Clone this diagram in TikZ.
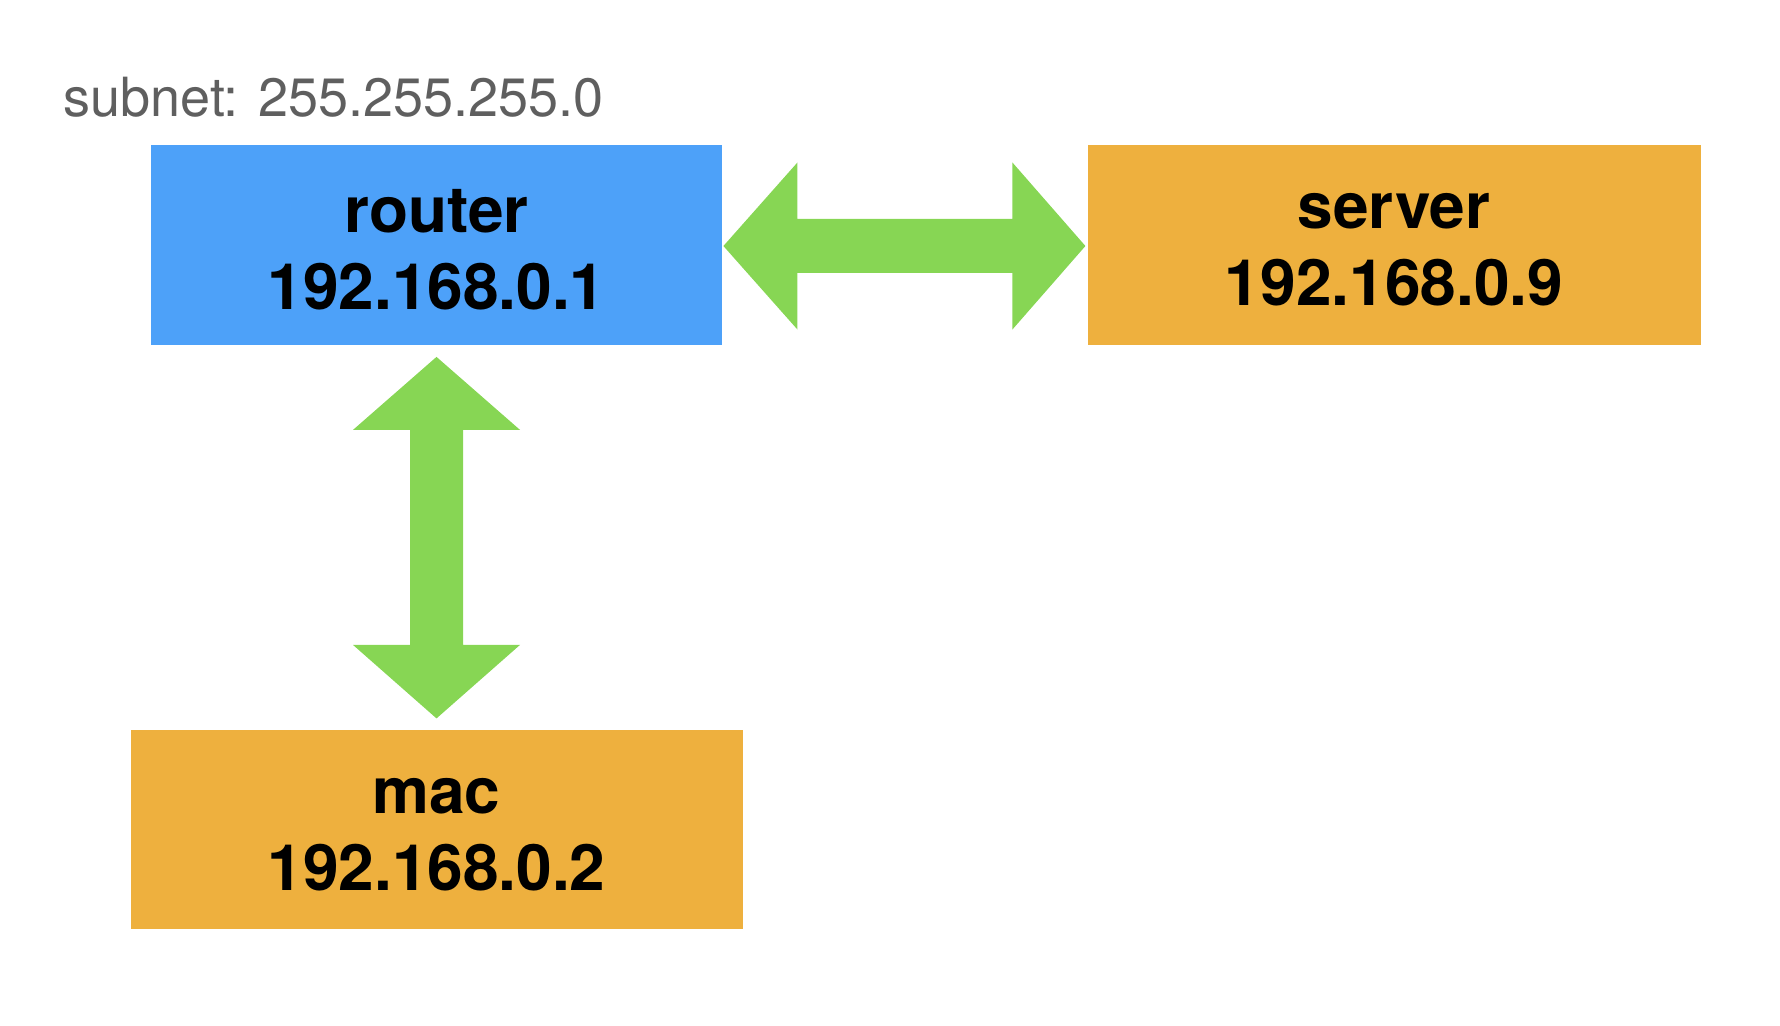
\documentclass[tikz,border=0pt]{standalone}
\usepackage{fontspec}
\setmainfont{TeX Gyre Heros}
\usetikzlibrary{calc}
\definecolor{routerblue}{RGB}{77,161,249}
\definecolor{hostorange}{RGB}{238,176,62}
\definecolor{linkgreen}{RGB}{135,214,84}
\definecolor{notegray}{RGB}{95,95,95}

\begin{document}
\begin{tikzpicture}[
  x=0.5pt, y=-0.5pt,
  box/.style={rectangle, inner sep=0pt, minimum height=99.5pt, align=center,
    font=\bfseries\fontsize{32}{38.5}\selectfont},
  router/.style={box, fill=routerblue, minimum width=285.5pt},
  host/.style={box, fill=hostorange, minimum width=306pt},
  boxtext/.style={box, minimum height=0pt, yshift=-2.5pt},
  link/.style={fill=linkgreen}
]
\useasboundingbox (0,0) rectangle (1780,1026);
\node[anchor=base west, inner sep=0pt, text=notegray, font=\fontsize{27}{32}\selectfont] (subnet) at (63,117) {subnet: 255.255.255.0};
\node[router] (router) at (436.5,245) {};
\node[host, minimum width=306.5pt] (server) at (1394,245) {};
\node[host] (mac) at (436.5,829.5) {};
\node[boxtext] (routertext) at (router) {router\\192.168.0.1};
\node[boxtext] (servertext) at (server) {server\\192.168.0.9};
\node[boxtext] (mactext) at (mac) {mac\\192.168.0.2};
\coordinate (rs) at ($(router.east)+(1,1)$);
\coordinate (rm) at ($(router.south)+(0,12)$);
\path[link] (rs) -- ++(74,-83.5) -- ++(0,56.5) -- ++(215,0) -- ++(0,-56.5)
  -- ++(73,83.5) -- ++(-73,83.5) -- ++(0,-56.5) -- ++(-215,0) -- ++(0,56.5) -- cycle;
\path[link] (rm) -- ++(83.5,73) -- ++(-57,0) -- ++(0,215) -- ++(57,0)
  -- ++(-83.5,73.5) -- ++(-83.5,-73.5) -- ++(57,0) -- ++(0,-215) -- ++(-57,0) -- cycle;
\end{tikzpicture}
\end{document}
